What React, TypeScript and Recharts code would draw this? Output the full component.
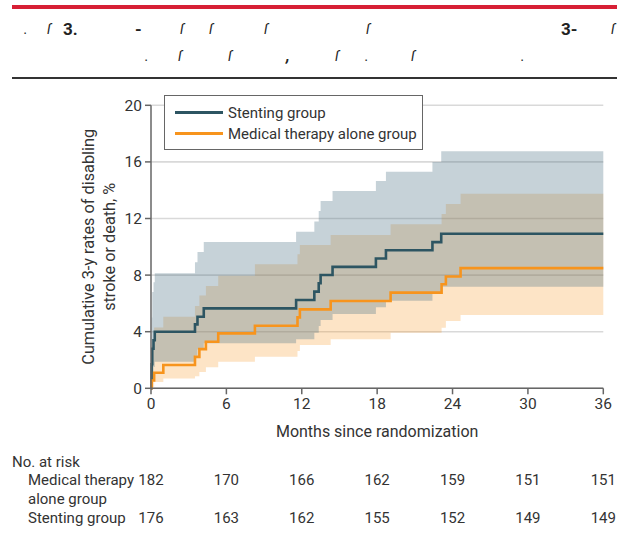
import React from 'react';
import { ComposedChart, Area, Line, XAxis, YAxis, CartesianGrid, Legend } from 'recharts';

// ---------- data ----------
const monthTicks = [0, 6, 12, 18, 24, 30, 36];
const rateTicks = [0, 4, 8, 12, 16, 20];

// Stenting group: Kaplan-Meier cumulative rate (%) with 95% CI, step times in months
const stentMonths = [0, 0.05, 0.1, 0.2, 0.3, 3.5, 3.7, 4.2, 11.55, 13.0, 13.35, 13.5, 14.45, 17.9, 18.7, 22.4, 23.1, 36];
const stentRate = [0, 1.7, 2.8, 3.4, 4.0, 4.52, 5.06, 5.65, 6.24, 6.83, 7.42, 8.01, 8.58, 9.17, 9.76, 10.33, 10.92, 10.92];
const stentLower = [0, 0.4, 1.0, 1.5, 1.88, 2.3, 2.75, 3.18, 3.46, 3.93, 4.4, 4.83, 5.25, 5.73, 6.19, 6.7, 7.18, 7.18];
const stentUpper = [0, 5.0, 6.8, 7.5, 8.13, 8.9, 9.63, 10.34, 11.07, 11.78, 12.53, 13.24, 13.94, 14.65, 15.31, 15.99, 16.75, 16.75];

// Medical therapy alone group
const medMonths = [0, 0.05, 0.25, 0.98, 3.5, 3.85, 4.37, 5.35, 8.27, 11.66, 11.85, 14.3, 19.07, 23.13, 23.47, 24.64, 36];
const medRate = [0, 0.55, 1.1, 1.65, 2.22, 2.77, 3.29, 3.88, 4.42, 5.01, 5.58, 6.17, 6.76, 7.35, 7.9, 8.49, 8.49];
const medLower = [0, 0.1, 0.45, 0.7, 0.85, 1.15, 1.48, 1.88, 2.23, 2.64, 3.06, 3.46, 3.93, 4.28, 4.76, 5.18, 5.18];
const medUpper = [0, 3.0, 4.3, 5.06, 5.82, 6.55, 7.23, 7.96, 8.76, 9.47, 10.13, 10.83, 11.6, 12.32, 13.02, 13.75, 13.75];

const riskMedical = [182, 170, 166, 162, 159, 151, 151];
const riskStenting = [176, 163, 162, 155, 152, 149, 149];

const seriesNames = ['Stenting group', 'Medical therapy alone group'];

// ---------- styling ----------
const FONT = 'Roboto, "DejaVu Sans", sans-serif';
const TEXT = '#333';
const STENT_COLOR = '#2d5562';
const MED_COLOR = '#f7941d';
const STENT_BAND = '#51758a';
const MED_BAND = '#f7941d';
const AXIS = '#666';

const CHART_W = 617;
const CHART_H = 450;
const PLOT_LEFT = 151;
const PLOT_RIGHT = 603.3;
const PLOT_TOP = 105.3;
const PLOT_BOTTOM = 388.3;
const Y_AXIS_W = 50;
const X_AXIS_H = 52;

function stepValue(months: number[], values: number[], t: number) {
  let v = values[0];
  for (let i = 0; i < months.length; i++) if (months[i] <= t) v = values[i];
  return v;
}

const allMonths = Array.from(new Set([...stentMonths, ...medMonths])).sort((a, b) => a - b);
const table = allMonths.map((m) => ({
  month: m,
  stent: stepValue(stentMonths, stentRate, m),
  stentCI: [stepValue(stentMonths, stentLower, m), stepValue(stentMonths, stentUpper, m)],
  med: stepValue(medMonths, medRate, m),
  medCI: [stepValue(medMonths, medLower, m), stepValue(medMonths, medUpper, m)],
}));

const headerRow1 = [
  { t: '.', x: 24, b: false },
  { t: 'ſ', x: 47, b: false },
  { t: '3.', x: 63, b: true },
  { t: '-', x: 135, b: true },
  { t: 'ſ', x: 180, b: false },
  { t: 'ſ', x: 209, b: false },
  { t: 'ſ', x: 264, b: false },
  { t: 'ſ', x: 366, b: false },
  { t: '3-', x: 561, b: true },
  { t: 'ſ', x: 611, b: false },
];
const headerRow2 = [
  { t: '.', x: 145, b: false },
  { t: 'ſ', x: 178, b: false },
  { t: 'ſ', x: 228, b: false },
  { t: ',', x: 286, b: true },
  { t: 'ſ', x: 335, b: false },
  { t: '.', x: 365, b: false },
  { t: 'ſ', x: 411, b: false },
  { t: '.', x: 521, b: false },
];

const renderLegend = (props: any) => {
  const payload = (props.payload || [])
    .filter((p: any) => seriesNames.includes(p.value))
    .sort((a: any, b: any) => seriesNames.indexOf(a.value) - seriesNames.indexOf(b.value));
  return (
    <div
      style={{
        border: '1px solid #666',
        background: '#fff',
        padding: '6px 0 0 10px',
        fontFamily: FONT,
        fontSize: 15,
        color: TEXT,
        boxSizing: 'border-box',
        width: 259,
        height: 55,
        whiteSpace: 'nowrap',
      }}
    >
      {payload.map((p: any) => (
        <div key={p.value} style={{ display: 'flex', alignItems: 'center', height: 21 }}>
          <span style={{ display: 'inline-block', width: 48, height: 3, background: p.color, marginRight: 5 }} />
          <span>{p.value}</span>
        </div>
      ))}
    </div>
  );
};

const YLabel = () => {
  const cy = (PLOT_TOP + PLOT_BOTTOM) / 2;
  return (
    <g fontFamily={FONT} fontSize={16.3} fill={TEXT}>
      <text x={89} y={cy} textAnchor="middle" dominantBaseline="central" transform={`rotate(-90, 89, ${cy})`}>
        Cumulative 3-y rates of disabling
      </text>
      <text x={110} y={cy} textAnchor="middle" dominantBaseline="central" transform={`rotate(-90, 110, ${cy})`}>
        stroke or death, %
      </text>
    </g>
  );
};

const xPos = (m: number) => PLOT_LEFT + (m / 36) * (PLOT_RIGHT - PLOT_LEFT);

const textStyle = (top: number, left: number, extra: any = {}) => ({
  position: 'absolute' as const,
  top: top - 10,
  left,
  height: 20,
  lineHeight: '20px',
  fontFamily: FONT,
  fontSize: 15,
  color: TEXT,
  whiteSpace: 'nowrap' as const,
  ...extra,
});

export default function App() {
  return (
    <div style={{ position: 'absolute', left: 0, top: 0, width: 617, height: 544, background: '#fff', overflow: 'hidden' }}>
      {/* header */}
      <div style={{ position: 'absolute', left: 12, top: 5, width: 605, height: 4, background: '#d71f35' }} />
      {headerRow1.map((h, i) => (
        <div key={'a' + i} style={textStyle(29, h.x, { fontSize: h.b ? 17 : 14, fontWeight: h.b ? 700 : 400, fontStyle: h.b ? 'normal' : 'italic', color: '#222' })}>
          {h.t}
        </div>
      ))}
      {headerRow2.map((h, i) => (
        <div key={'b' + i} style={textStyle(56, h.x, { fontSize: h.b ? 16 : 14, fontWeight: h.b ? 700 : 400, fontStyle: 'italic', color: '#222' })}>
          {h.t}
        </div>
      ))}
      <div style={{ position: 'absolute', left: 12, top: 77, width: 605, height: 1.5, background: '#333' }} />

      {/* chart */}
      <div style={{ position: 'absolute', left: 0, top: 0 }}>
        <ComposedChart
          width={CHART_W}
          height={CHART_H}
          data={table}
          margin={{
            top: PLOT_TOP,
            left: PLOT_LEFT - Y_AXIS_W,
            right: CHART_W - PLOT_RIGHT,
            bottom: CHART_H - PLOT_BOTTOM - X_AXIS_H,
          }}
        >
          <CartesianGrid vertical={false} stroke="#d9d9d9" strokeWidth={1.6} />
          <XAxis
            dataKey="month"
            type="number"
            domain={[0, 36]}
            ticks={monthTicks}
            interval={0}
            height={X_AXIS_H}
            tickSize={6}
            tickMargin={4}
            axisLine={{ stroke: AXIS, strokeWidth: 1.5 }}
            tickLine={{ stroke: AXIS, strokeWidth: 1.5 }}
            tick={{ fill: TEXT, fontSize: 15.5, fontFamily: FONT }}
            label={{
              value: 'Months since randomization',
              position: 'insideBottom',
              offset: 3,
              fill: TEXT,
              fontSize: 16,
              fontFamily: FONT,
            }}
          />
          <YAxis
            type="number"
            domain={[0, 20]}
            ticks={rateTicks}
            interval={0}
            width={Y_AXIS_W}
            tickSize={6}
            tickMargin={3}
            axisLine={{ stroke: AXIS, strokeWidth: 1.5 }}
            tickLine={{ stroke: AXIS, strokeWidth: 1.5 }}
            tick={{ fill: TEXT, fontSize: 15.5, fontFamily: FONT }}
            label={{ content: () => <YLabel /> }}
          />
          <Area
            dataKey="medCI"
            type="stepAfter"
            stroke="none"
            fill={MED_BAND}
            fillOpacity={0.25}
            legendType="none"
            isAnimationActive={false}
            activeDot={false}
          />
          <Area
            dataKey="stentCI"
            type="stepAfter"
            stroke="none"
            fill={STENT_BAND}
            fillOpacity={0.33}
            legendType="none"
            isAnimationActive={false}
            activeDot={false}
          />
          <Line
            dataKey="stent"
            name={seriesNames[0]}
            type="stepAfter"
            stroke={STENT_COLOR}
            strokeWidth={2.6}
            dot={false}
            isAnimationActive={false}
          />
          <Line
            dataKey="med"
            name={seriesNames[1]}
            type="stepAfter"
            stroke={MED_COLOR}
            strokeWidth={2.6}
            dot={false}
            isAnimationActive={false}
          />
          <Legend
            layout="vertical"
            align="center"
            verticalAlign="middle"
            content={renderLegend}
            wrapperStyle={{ position: 'absolute', left: 164, top: 95, width: 259, height: 55 }}
          />
        </ComposedChart>
      </div>

      {/* number at risk */}
      <div style={textStyle(462, 12)}>No. at risk</div>
      <div style={textStyle(480, 28)}>Medical therapy</div>
      <div style={textStyle(499, 28)}>alone group</div>
      <div style={textStyle(518, 28)}>Stenting group</div>
      {monthTicks.map((m, i) => (
        <div key={'m' + m} style={textStyle(480, xPos(m), { transform: 'translateX(-50%)' })}>
          {riskMedical[i]}
        </div>
      ))}
      {monthTicks.map((m, i) => (
        <div key={'s' + m} style={textStyle(518, xPos(m), { transform: 'translateX(-50%)' })}>
          {riskStenting[i]}
        </div>
      ))}
    </div>
  );
}
